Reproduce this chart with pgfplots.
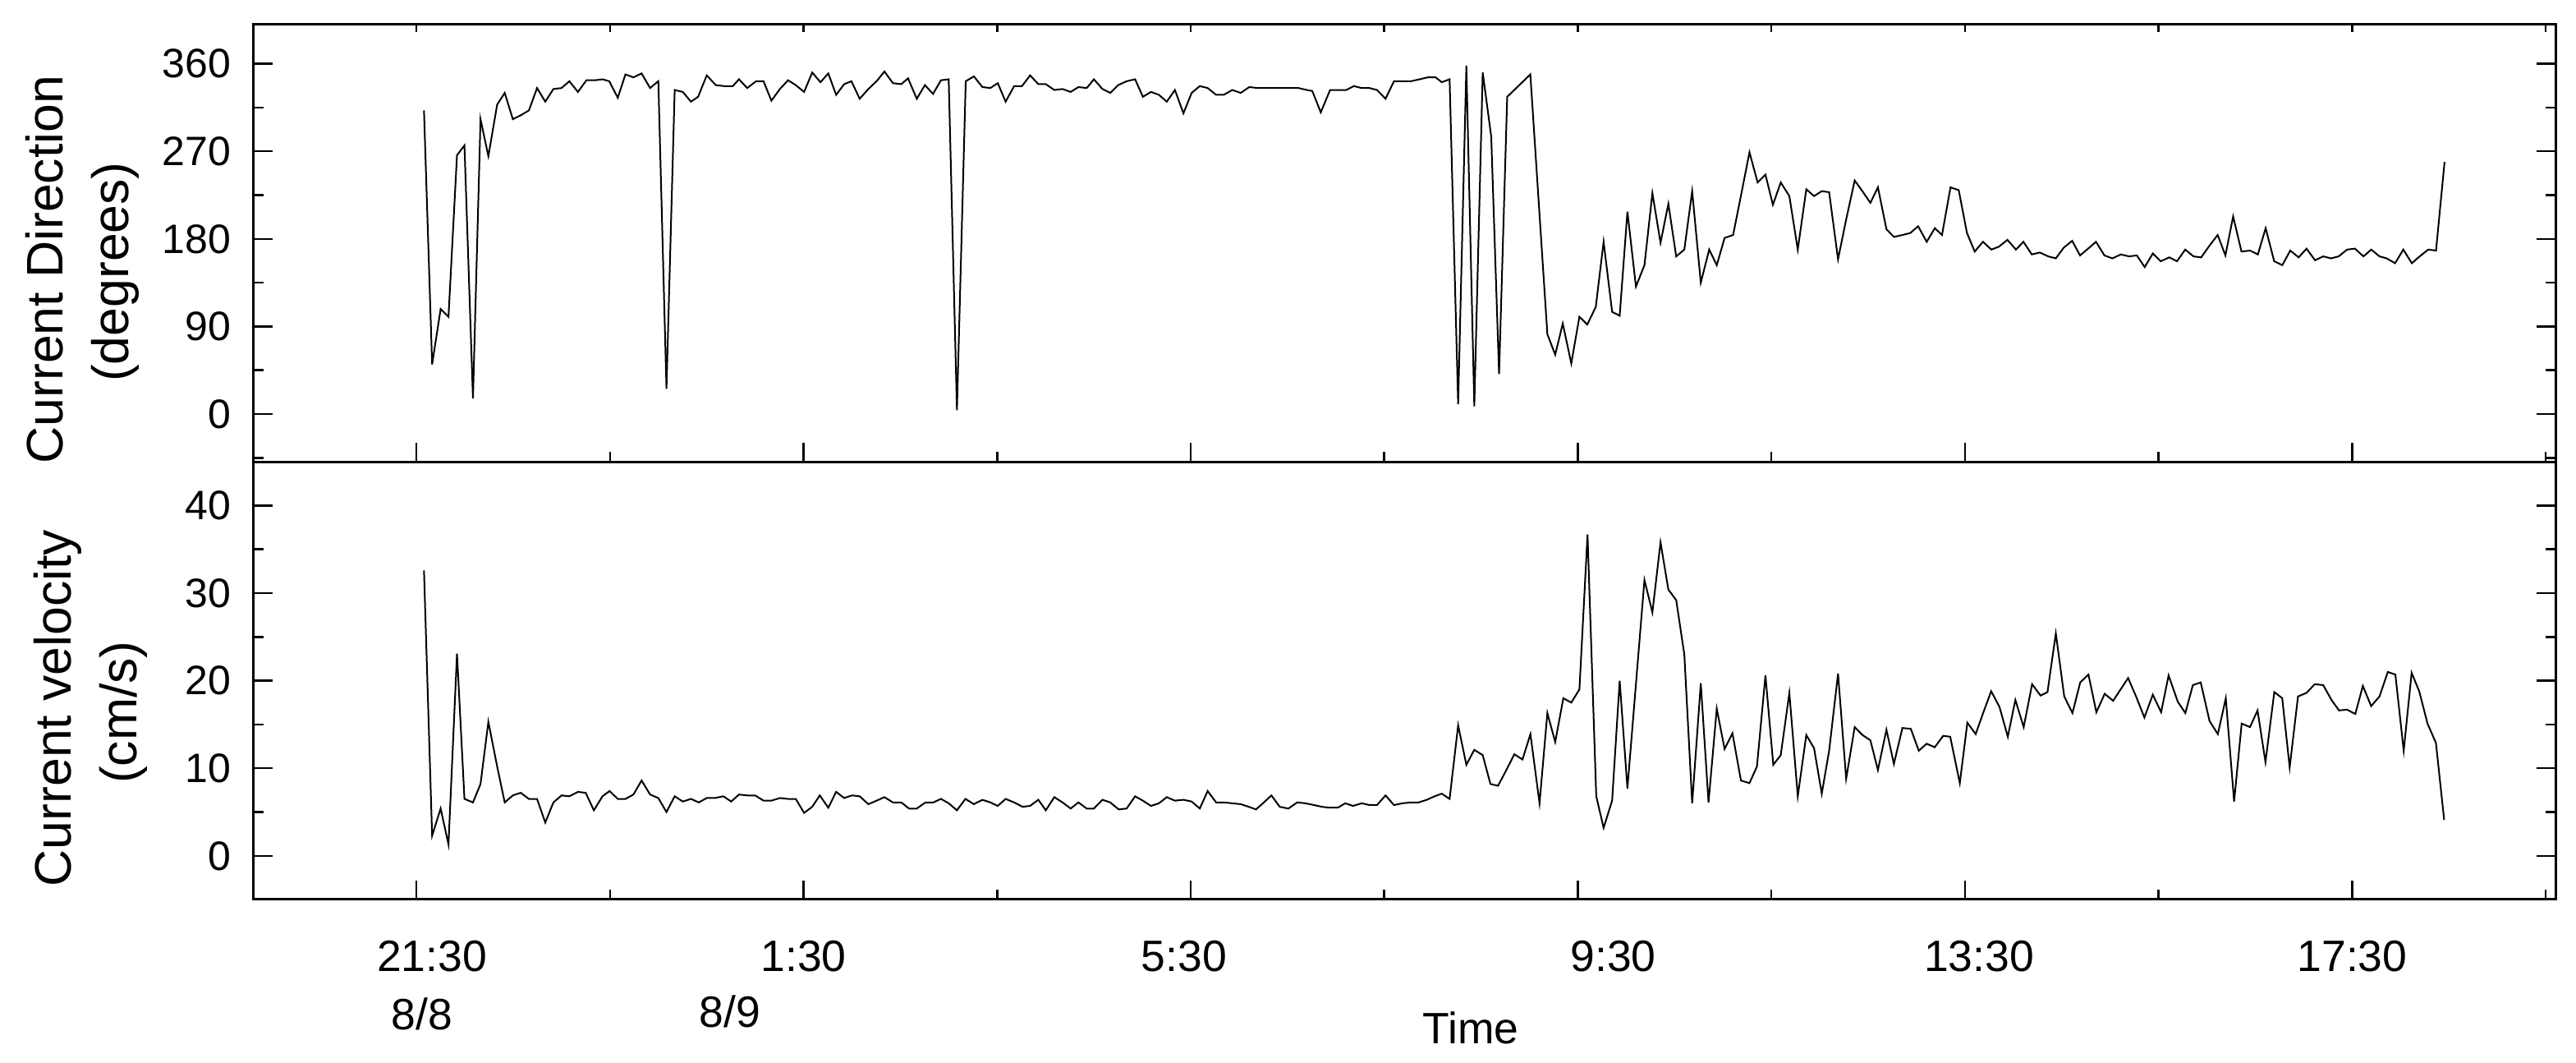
\documentclass[border=0pt]{standalone}
\usepackage{fontspec}
\setmainfont{Liberation Sans}
\usepackage{pgfplots}
\pgfplotsset{compat=1.18}
\usepackage{pgfplotstable}

% time t in hours after 21:30 on 8/8
\pgfplotstableread{
t d
0.079 312
0.163 51
0.251 108
0.332 100
0.420 266
0.497 276
0.585 16
0.663 303
0.744 265
0.835 318
0.913 330
0.997 303
1.078 307
1.163 312
1.247 335
1.332 321
1.416 334
1.500 335
1.581 342
1.669 331
1.757 343
1.845 343
1.923 344
1.993 342
2.081 325
2.160 349
2.243 346
2.327 350
2.415 335
2.500 342
2.584 26
2.669 333
2.753 331
2.837 321
2.911 326
3.000 348
3.094 338
3.182 337
3.270 337
3.333 344
3.418 335
3.510 342
3.587 342
3.668 322
3.756 334
3.840 343
3.920 338
4.006 331
4.090 351
4.175 341
4.256 350
4.337 328
4.420 339
4.495 342
4.580 324
4.670 334
4.755 342
4.836 352
4.924 340
5.010 339
5.080 345
5.170 324
5.254 338
5.338 329
5.420 343
5.500 344
5.585 4
5.676 342
5.760 347
5.848 336
5.930 335
6.007 340
6.088 321
6.176 337
6.257 337
6.341 348
6.426 339
6.503 339
6.591 333
6.676 334
6.760 331
6.840 336
6.926 335
7.000 344
7.088 334
7.169 330
7.250 338
7.338 342
7.426 344
7.506 326
7.590 331
7.672 328
7.753 321
7.837 333
7.925 309
8.010 330
8.094 337
8.175 335
8.263 328
8.340 328
8.430 333
8.517 330
8.605 336
8.693 335
8.780 335
8.868 335
8.956 335
9.045 335
9.115 335
9.200 333
9.256 332
9.344 310
9.440 333
9.527 333
9.608 333
9.685 337
9.766 335
9.847 335
9.925 333
10.013 324
10.100 342
10.189 342
10.276 342
10.365 344
10.450 346
10.530 346
10.594 341
10.675 344
10.763 10
10.848 358
10.930 8
11.017 351
11.105 285
11.186 41
11.270 326
11.509 349
11.685 82
11.766 61
11.844 93
11.932 52
12.016 100
12.097 92
12.185 110
12.266 177
12.354 105
12.432 101
12.512 208
12.600 131
12.688 153
12.770 227
12.854 176
12.935 216
13.016 162
13.100 169
13.181 229
13.270 135
13.357 169
13.435 153
13.516 181
13.604 184
13.690 227
13.773 269
13.857 238
13.938 246
14.015 215
14.096 238
14.185 224
14.272 169
14.360 231
14.440 224
14.520 229
14.596 228
14.688 159
14.772 200
14.860 240
14.940 229
15.022 217
15.100 233
15.188 190
15.265 182
15.353 184
15.434 186
15.515 193
15.604 177
15.688 191
15.762 184
15.850 233
15.935 230
16.020 186
16.100 167
16.185 177
16.272 169
16.350 172
16.438 179
16.526 169
16.603 177
16.690 164
16.772 166
16.860 162
16.938 160
17.020 171
17.107 178
17.188 163
17.272 170
17.353 177
17.440 163
17.522 160
17.610 164
17.695 162
17.775 163
17.856 151
17.940 165
18.022 157
18.110 161
18.190 157
18.275 169
18.360 162
18.440 161
18.525 173
18.610 184
18.690 163
18.770 203
18.856 167
18.944 168
19.025 164
19.106 191
19.194 157
19.278 153
19.360 168
19.447 161
19.528 170
19.616 158
19.700 162
19.782 160
19.860 162
19.947 169
20.028 170
20.116 162
20.197 169
20.282 162
20.356 160
20.443 155
20.528 169
20.616 155
20.697 162
20.785 169
20.866 168
20.954 259
}\dirdata

\pgfplotstableread{
t v
0.079 32.6
0.163 2.3
0.251 5.4
0.332 1.3
0.420 23.1
0.497 6.5
0.585 6.1
0.663 8.2
0.744 15.3
0.835 10.2
0.913 6.1
0.997 6.9
1.078 7.2
1.163 6.5
1.247 6.5
1.332 3.8
1.416 6.1
1.500 6.9
1.581 6.8
1.669 7.3
1.749 7.2
1.834 5.2
1.923 6.8
1.996 7.4
2.081 6.5
2.160 6.5
2.243 7.0
2.327 8.6
2.415 7.0
2.500 6.6
2.584 5.0
2.669 6.8
2.753 6.2
2.837 6.5
2.918 6.1
3.000 6.6
3.084 6.6
3.172 6.8
3.253 6.2
3.333 7.0
3.418 6.9
3.500 6.9
3.587 6.3
3.668 6.3
3.756 6.6
3.840 6.5
3.920 6.5
4.006 4.9
4.090 5.6
4.168 6.9
4.256 5.5
4.337 7.3
4.420 6.6
4.500 6.9
4.580 6.8
4.670 5.9
4.755 6.3
4.836 6.7
4.924 6.1
5.010 6.1
5.090 5.4
5.170 5.4
5.260 6.1
5.340 6.1
5.420 6.5
5.500 6.0
5.585 5.2
5.673 6.5
5.760 5.9
5.848 6.4
5.930 6.1
6.007 5.7
6.088 6.5
6.176 6.1
6.264 5.6
6.340 5.7
6.426 6.4
6.503 5.2
6.591 6.7
6.676 6.1
6.760 5.4
6.840 6.1
6.926 5.4
7.000 5.4
7.088 6.4
7.169 6.1
7.256 5.3
7.338 5.4
7.426 6.8
7.506 6.3
7.590 5.7
7.672 6.0
7.753 6.7
7.837 6.3
7.925 6.4
8.010 6.2
8.094 5.4
8.175 7.4
8.263 6.1
8.340 6.1
8.430 6.0
8.517 5.9
8.600 5.6
8.675 5.3
8.756 6.1
8.834 6.9
8.920 5.6
9.010 5.4
9.100 6.1
9.185 6.0
9.274 5.8
9.355 5.6
9.430 5.5
9.520 5.5
9.597 6.0
9.678 5.7
9.766 6.0
9.847 5.8
9.925 5.8
10.013 6.9
10.100 5.8
10.189 6.0
10.276 6.1
10.354 6.1
10.440 6.4
10.520 6.8
10.594 7.1
10.675 6.5
10.763 14.9
10.848 10.4
10.930 12.1
11.017 11.5
11.097 8.2
11.175 8.0
11.252 9.6
11.344 11.6
11.428 11.0
11.510 13.9
11.604 6.0
11.685 16.3
11.766 13.0
11.850 18.0
11.932 17.5
12.016 19.0
12.100 36.7
12.190 6.8
12.266 3.2
12.354 6.3
12.432 20.0
12.512 7.7
12.600 19.6
12.688 31.5
12.770 27.8
12.854 35.8
12.935 30.4
13.016 29.2
13.100 23.0
13.181 6.0
13.270 19.7
13.350 6.1
13.435 16.8
13.516 12.2
13.597 14.0
13.685 8.6
13.773 8.3
13.850 10.2
13.938 20.6
14.019 10.4
14.096 11.5
14.185 18.6
14.272 6.8
14.360 13.8
14.440 12.3
14.520 7.1
14.596 12.0
14.688 20.8
14.772 8.8
14.860 14.7
14.940 13.8
15.022 13.2
15.100 9.8
15.188 14.4
15.265 10.5
15.353 14.6
15.440 14.5
15.522 12.0
15.603 12.8
15.687 12.4
15.774 13.7
15.847 13.6
15.946 8.3
16.024 15.2
16.110 13.9
16.190 16.4
16.270 18.8
16.356 17.0
16.442 13.6
16.520 17.8
16.606 14.7
16.693 19.6
16.780 18.3
16.852 18.7
16.938 25.4
17.025 18.2
17.110 16.3
17.190 19.8
17.275 20.7
17.357 16.4
17.443 18.5
17.530 17.7
17.607 19.0
17.685 20.3
17.767 18.2
17.853 15.8
17.940 18.4
18.026 16.4
18.103 20.6
18.198 17.6
18.276 16.3
18.354 19.5
18.435 19.8
18.526 15.4
18.612 13.9
18.694 18.0
18.780 6.2
18.858 15.1
18.944 14.7
19.022 16.6
19.104 10.7
19.195 18.7
19.277 18.0
19.354 10.1
19.440 18.2
19.527 18.6
19.613 19.6
19.700 19.5
19.786 17.8
19.864 16.6
19.945 16.7
20.032 16.2
20.110 19.4
20.196 17.1
20.282 18.2
20.368 21.0
20.446 20.7
20.532 12.0
20.614 20.9
20.692 18.8
20.778 15.1
20.865 12.9
20.950 4.1
}\veldata

\begin{document}
\begin{tikzpicture}
\pgfplotsset{
  panel/.style={
    scale only axis, width=560.6pt, height=106.5pt,
    xmin=-1.68, xmax=22.1,
    axis line style={line width=0.6pt},
    tick style={line width=0.5pt, black},
    tick align=inside,
    major tick length=4.6pt, minor tick length=2.4pt,
    xtick={0,4,...,20}, minor xtick={2,6,10,14,18,22},
    xtick pos=bottom, ytick pos=both,
    /pgf/number format/assume math mode=true,
    yticklabel style={font=\fontsize{10}{12}\selectfont, xshift=-2pt},
  }
}
\begin{axis}[panel, at={(0,0)}, anchor=north west,
  ymin=-49, ymax=400.5,
  ytick={0,90,180,270,360}, minor ytick={-45,45,135,225,315},
  xticklabels={}]
\addplot[line width=0.4pt, black, mark=none] table[x=t, y=d] {\dirdata};
\end{axis}
% short ticks along the upper edge of the upper panel
\begin{axis}[at={(0,0)}, anchor=north west, scale only axis,
  width=560.6pt, height=106.5pt,
  xmin=-1.68, xmax=22.1, ymin=0, ymax=1,
  axis x line*=top, axis y line=none,
  axis line style={-, line width=0.6pt},
  tick style={line width=0.5pt, black},
  xtick={0,2,...,22}, xticklabels={}, ytick=\empty,
  tick align=inside, major tick length=1.8pt]
\end{axis}
\begin{axis}[panel, at={(0,-106.5pt)}, anchor=north west,
  ymin=-4.95, ymax=45,
  ytick={0,10,20,30,40}, minor ytick={5,15,25,35},
  xticklabels={\hspace*{7.6pt}21:30, 1:30, 5:30\hspace*{3.2pt},
               \hspace*{17.2pt}9:30, \hspace*{6.8pt}13:30, 17:30},
  xticklabel style={font=\fontsize{10.7}{12}\selectfont, yshift=-6.5pt}]
\addplot[line width=0.4pt, black, mark=none] table[x=t, y=v] {\veldata};
\end{axis}
\begin{scope}[every node/.style={rotate=90, anchor=base, font=\fontsize{12.5}{15}\selectfont}]
\node at (-46.4pt,-59.7pt) {Current Direction};
\node at (-30.4pt,-60.3pt) {(degrees)};
\node at (-44.4pt,-166.5pt) {Current velocity};
\node at (-28.4pt,-167.5pt) {(cm/s)};
\end{scope}
\begin{scope}[every node/.style={anchor=base, font=\fontsize{10.7}{12}\selectfont}]
\node at (41pt,-244.7pt) {8/8};
\node at (116pt,-244.1pt) {8/9};
\node at (296.4pt,-248.1pt) {Time};
\end{scope}
\pgfresetboundingbox
\path[use as bounding box] (-61.8pt,5.92pt) rectangle (565.6pt,-252.7pt);
\end{tikzpicture}
\end{document}
